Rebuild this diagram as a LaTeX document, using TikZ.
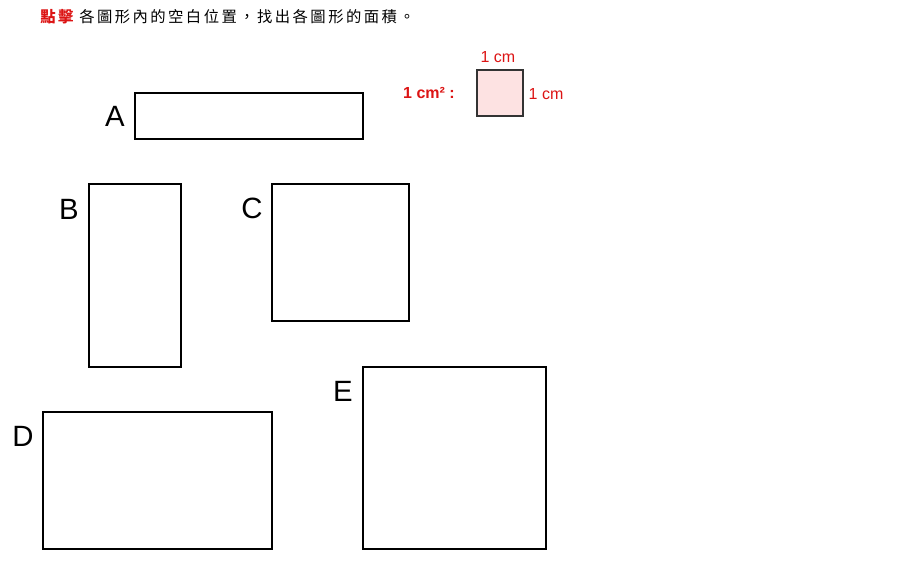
\documentclass[tikz,border=0pt]{standalone}
\usepackage{fontspec}
\setmainfont{Liberation Sans}
\newfontfamily\cjk[LetterSpace=16]{Noto Sans CJK TC}
\definecolor{hintred}{RGB}{220,20,20}
\definecolor{unitpink}{RGB}{253,226,226}
\tikzset{
  shape box/.style={draw=black,line width=1.2pt,fill=white},
  shape label/.style={font=\fontsize{22}{22}\selectfont,anchor=center},
  unit text/.style={text=hintred,font=\fontsize{12}{12}\selectfont}
}
\begin{document}
\begin{tikzpicture}[x=0.75pt,y=0.75pt,yscale=-1,xscale=1]
\useasboundingbox (0,0) rectangle (900,564);

% Title
\node [anchor=west,inner sep=0pt,font=\cjk\fontsize{11.5}{11.5}\selectfont] (title) at (40,17) {{\color{hintred}\bfseries 點擊} 各圖形內的空白位置，找出各圖形的面積。};

% unit square
\draw [fill=unitpink,draw=black!80,line width=0.8pt] (477,70) rectangle (523,116);
\node [unit text] (top) at (498,57) {1 cm};
\node [unit text,anchor=west] (side) at (524,94) {1 cm};
\node [unit text,font=\bfseries\fontsize{12}{12}\selectfont] (unit) at (429,93) {1 cm² :};

% shapes
\draw [shape box] (135,93) rectangle (363,139);
\node [shape label] (labA) at (115,116) {A};
\draw [shape box] (89,184) rectangle (181,367);
\node [shape label] (labB) at (69,209) {B};
\draw [shape box] (272,184) rectangle (409,321);
\node [shape label] (labC) at (252,208) {C};
\draw [shape box] (43,412) rectangle (272,549);
\node [shape label] (labD) at (23,436) {D};
\draw [shape box] (363,367) rectangle (546,549);
\node [shape label] (labE) at (343,391) {E};

\end{tikzpicture}
\end{document}
